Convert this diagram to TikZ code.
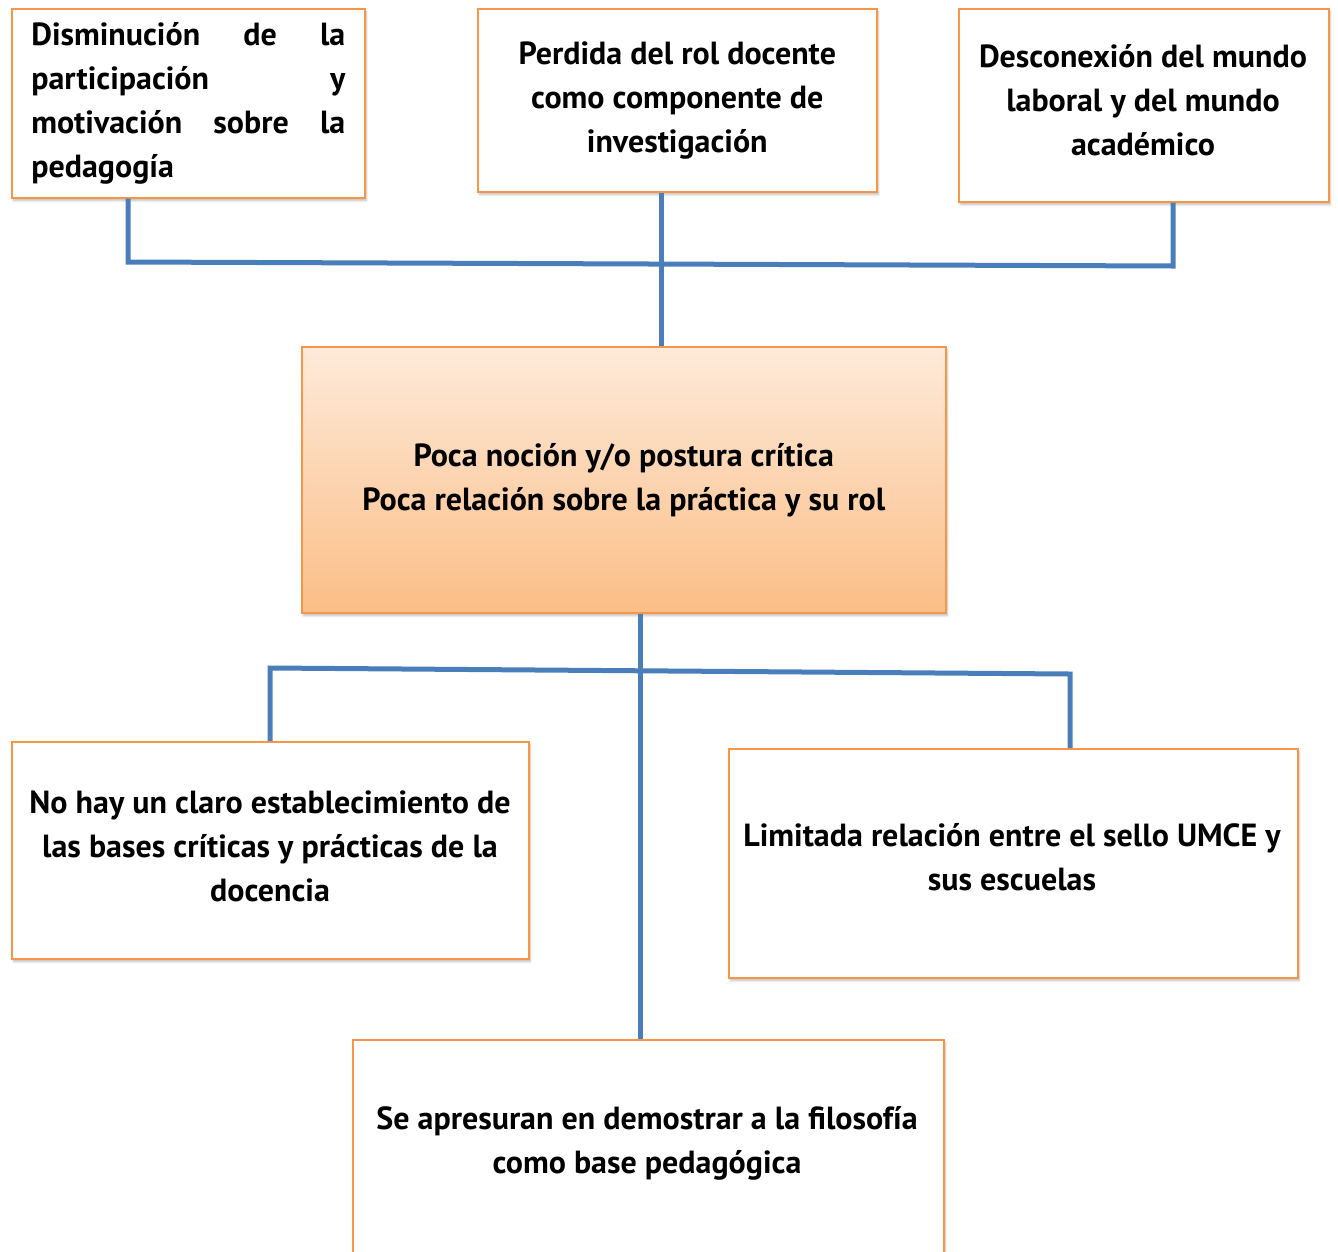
\documentclass[tikz,border=0pt]{standalone}
\usepackage{fontspec}
\setmainfont{PT Sans}
\usetikzlibrary{shadows.blur,calc}
\definecolor{boxline}{HTML}{F79646}
\definecolor{conncol}{HTML}{4A7EBB}
\definecolor{gtop}{HTML}{FDEADA}
\definecolor{gbot}{HTML}{FBBE87}
\newcommand\boxfont{\fontsize{32}{44}\selectfont\bfseries}
\begin{document}
\begin{tikzpicture}[x=1pt,y=-1pt,
  every node/.style={font=\boxfont},
  box/.style={draw=boxline,line width=1.6pt,fill=white,anchor=north west,inner sep=0pt,
    blur shadow={shadow xshift=1.5pt,shadow yshift=-3pt,shadow blur steps=6,shadow opacity=25}},
  boxtext/.style={align=center,inner sep=0pt},
  conn/.style={draw=conncol,line width=5pt}]
\useasboundingbox (0,0) rectangle (1338,1251);
% top boxes
\node[box,minimum width=353pt,minimum height=189pt,align=left] (b1) at (11,8)
  {\parbox{314pt}{\boxfont Disminución\hfill de\hfill la\\ participación\hfill y\\ motivación\hfill sobre\hfill la\\ pedagogía}};
\node[box,minimum width=399pt,minimum height=183pt,align=center] (b2) at (477,8)
  {Perdida del rol docente\\ como componente de\\ investigación};
\node[box,minimum width=370pt,minimum height=193pt] (b3) at (958,8) {};
\node[boxtext] (b3t) at (1143,100) {Desconexión del mundo\\ laboral y del mundo\\ académico};
% central box
\node[box,top color=gtop,bottom color=gbot,minimum width=644pt,minimum height=266pt,align=center] (c) at (301,346)
  {Poca noción y/o postura crítica\\ Poca relación sobre la práctica y su rol};
% bottom boxes
\node[box,minimum width=517pt,minimum height=217pt] (bl) at (11,741) {};
\node[boxtext] (blt) at (270,846) {No hay un claro establecimiento de\\ las bases críticas y prácticas de la\\ docencia};
\node[box,minimum width=569pt,minimum height=229pt] (br) at (728,748) {};
\node[boxtext] (brt) at (1012,857) {Limitada relación entre el sello UMCE y\\ sus escuelas};
\node[box,minimum width=591pt,minimum height=300pt] (bb) at (352,1039) {};
\node[boxtext] (bbt) at (647,1143) {Se apresuran en demostrar a la filosofía\\ como base pedagógica};
% connectors top
\coordinate (t1) at (128,262);
\coordinate (t3) at (1173,266);
\coordinate (tm) at (661,264);
\draw[conn] (b1.south -| t1) -- (t1) -- (t3) -- (b3.south -| t3);
\draw[conn] (b2.south -| tm) -- (c.north -| tm);
% connectors bottom
\coordinate (m1) at (270,668);
\coordinate (m2) at (1070,674);
\coordinate (mm) at (640,670);
\draw[conn] (c.south -| mm) -- (bb.north -| mm);
\draw[conn] (bl.north -| m1) -- (m1) -- (m2) -- (br.north -| m2);
\end{tikzpicture}
\end{document}
